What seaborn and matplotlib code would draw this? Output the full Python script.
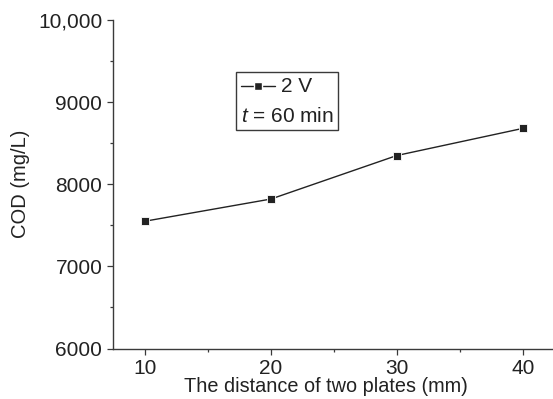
import matplotlib
matplotlib.use("Agg")
import matplotlib.pyplot as plt
import seaborn as sns
import pandas as pd
from matplotlib.ticker import MultipleLocator, FuncFormatter
from matplotlib.offsetbox import AnchoredOffsetbox, VPacker, HPacker, TextArea, DrawingArea
from matplotlib.lines import Line2D

# Plate spacing (mm) and resulting COD (mg/L) at 2 V, t = 60 min
distance = [10, 20, 30, 40]
cod = [7550, 7820, 8350, 8680]
series_label = "2 V"
time_label = "$t$ = 60 min"

sns.set_style("ticks")
plt.rcParams["font.family"] = ["Liberation Sans", "DejaVu Sans"]
plt.rcParams["mathtext.fontset"] = "custom"
plt.rcParams["mathtext.it"] = "Liberation Sans:italic"
plt.rcParams["mathtext.rm"] = "Liberation Sans"

ink = "#222222"
axis_c = "#3a3a3a"

fig = plt.figure(figsize=(5.53, 3.99), dpi=100)
ax = fig.add_axes([112.5 / 553, 1 - 348.5 / 399, 1 - 112.5 / 553, (348.5 - 20) / 399])

df = pd.DataFrame({"distance": distance, "cod": cod})
sns.lineplot(data=df, x="distance", y="cod", ax=ax, color=ink, linewidth=1.0,
             marker="s", markersize=6, markeredgecolor="white", markeredgewidth=0.6,
             markerfacecolor=ink)

ax.set_xlim(7.42, 42.4)
ax.set_ylim(6000, 10000)
ax.xaxis.set_major_locator(MultipleLocator(10))
ax.xaxis.set_minor_locator(MultipleLocator(5))
ax.yaxis.set_major_locator(MultipleLocator(1000))
ax.yaxis.set_minor_locator(MultipleLocator(500))
ax.yaxis.set_major_formatter(FuncFormatter(lambda v, p: f"{v:,.0f}" if v >= 10000 else f"{v:.0f}"))

for side in ("top", "right"):
    ax.spines[side].set_visible(False)
for side in ("left", "bottom"):
    ax.spines[side].set_color(axis_c)
    ax.spines[side].set_linewidth(1.0)
ax.tick_params(which="major", direction="out", length=4.3, width=0.9, color=axis_c,
               labelsize=15, labelcolor=ink)
ax.tick_params(axis="x", which="major", pad=3)
ax.tick_params(axis="y", which="major", pad=3)
ax.tick_params(which="minor", direction="out", length=2.5, width=0.9, color=axis_c)

ax.set_xlabel("The distance of two plates (mm)", fontsize=14.3, color=ink)
ax.set_ylabel("COD (mg/L)", fontsize=14.5, color=ink, labelpad=6)
ax.xaxis.set_label_coords((326 - 112.5) / (553 - 112.5), -0.087)

# Boxed key: line-with-marker entry plus the reaction time note
handle = DrawingArea(25, 10, 0, 0)
handle.add_artist(Line2D([0, 25], [5, 5], color=ink, linewidth=1.0))
handle.add_artist(Line2D([12.5], [5], marker="s", markersize=6, markerfacecolor=ink,
                         markeredgecolor="white", markeredgewidth=1.0, linestyle="none"))
row1 = HPacker(children=[handle, TextArea(series_label, textprops=dict(fontsize=15, color=ink))],
               align="center", pad=0, sep=4)
row2 = TextArea(time_label, textprops=dict(fontsize=15, color=ink))
box = VPacker(children=[row1, row2], align="left", pad=0, sep=8)
anchored = AnchoredOffsetbox(loc="upper left", child=box, pad=0.22, borderpad=0, frameon=True,
                             prop=dict(size=15),
                             bbox_to_anchor=(236 / 553, 1 - 72 / 399),
                             bbox_transform=fig.transFigure)
anchored.patch.set_boxstyle("square", pad=0)
anchored.patch.set_edgecolor(axis_c)
anchored.patch.set_linewidth(1.0)
ax.add_artist(anchored)

fig.savefig("out.png", dpi=100)
